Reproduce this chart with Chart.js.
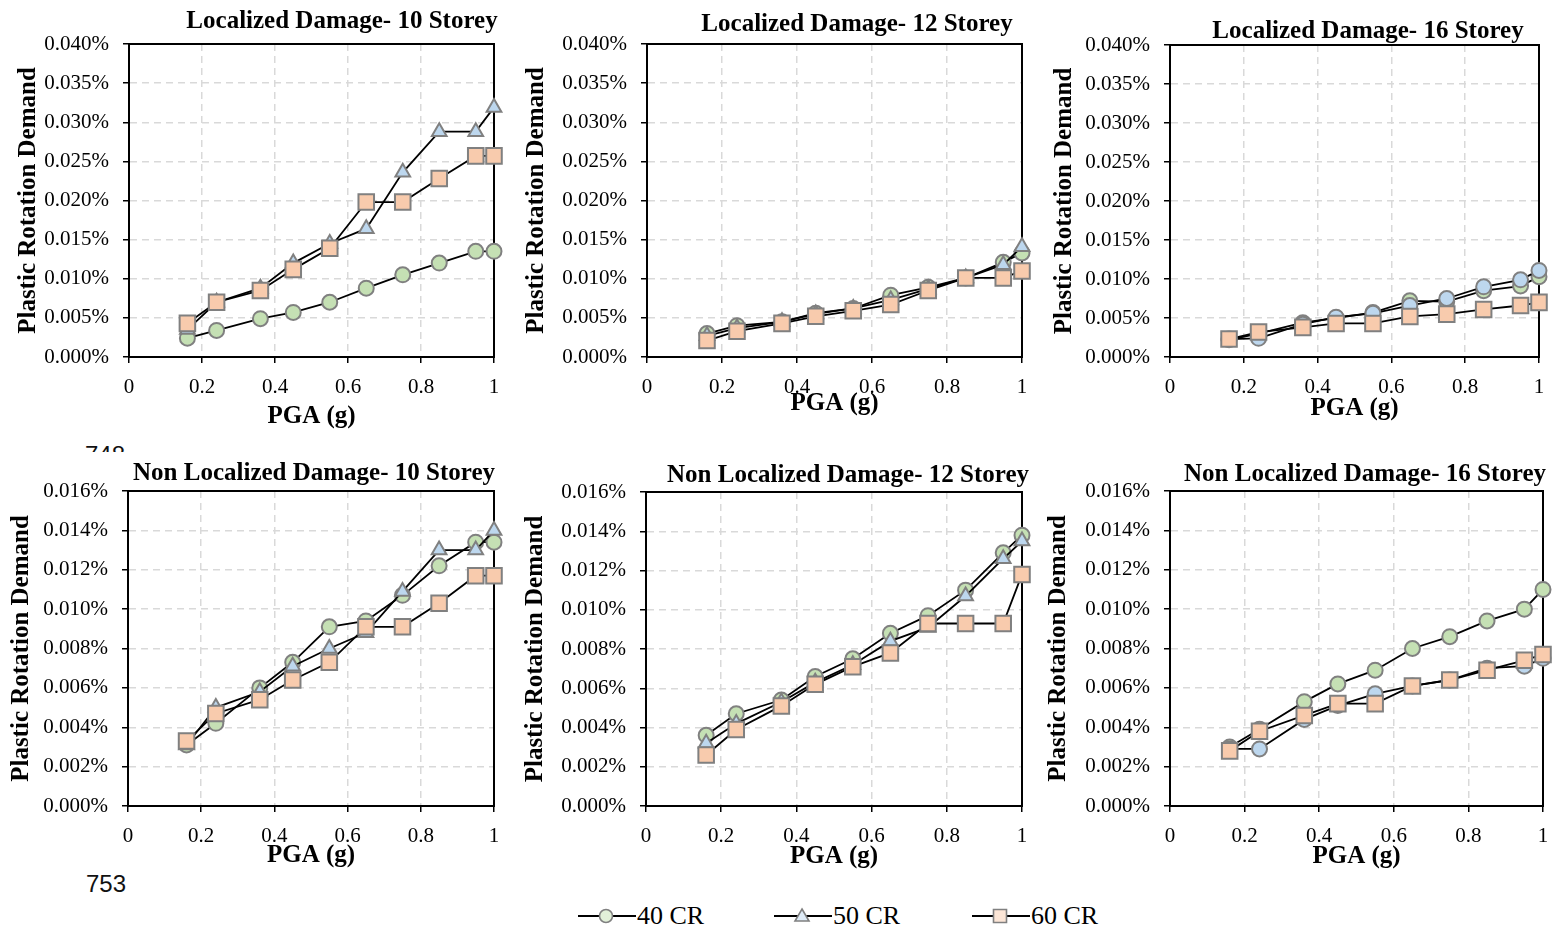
<!DOCTYPE html>
<html>
<head>
<meta charset="utf-8">
<script src="https://cdn.jsdelivr.net/npm/chart.js@4.4.1/dist/chart.umd.min.js"></script>
<style>
    body { margin: 0; background: #fff; }
    #page { position: relative; width: 1554px; height: 928px; overflow: hidden; background: #fff; }
    #page canvas { position: absolute; }
    .lineno { position: absolute; font-family: "Liberation Sans", sans-serif; font-size: 24px; color: #111; }
    .legend-item { position: absolute; top: 901px; height: 32px; }
    .legend-item canvas { position: absolute; left: 0; top: 4px; }
    .legend-item span { position: absolute; top: 0; font-family: "Liberation Serif", serif; font-size: 26px; color: #000; white-space: nowrap; }
</style>
</head>
<body>
<div id="page">
    <div class="lineno" style="left:85px; top:440px; height:12px; overflow:hidden;"><div style="margin-top:1px;">748</div></div>
    <div class="lineno" style="left:86px; top:870px;">753</div>
</div>
<script>
// Dados (PGA em g, demanda de rotação plástica em %)
const pga = [0.16, 0.24, 0.36, 0.45, 0.55, 0.65, 0.75, 0.85, 0.95, 1.0];
const seriesNames = ['40 CR', '50 CR', '60 CR'];

const loc10_cr40 = [0.0024, 0.0034, 0.0049, 0.0057, 0.0070, 0.0088, 0.0105, 0.0120, 0.0135, 0.0135];
const loc10_cr50 = [0.0035, 0.0070, 0.0088, 0.0120, 0.0145, 0.0164, 0.0236, 0.0288, 0.0288, 0.0319];
const loc10_cr60 = [0.0043, 0.0070, 0.0085, 0.0112, 0.0139, 0.0198, 0.0198, 0.0228, 0.0257, 0.0257];

const loc12_cr40 = [0.0030, 0.0040, 0.0045, 0.0056, 0.0062, 0.0079, 0.0089, 0.0101, 0.0121, 0.0133];
const loc12_cr50 = [0.0027, 0.0037, 0.0045, 0.0055, 0.0062, 0.0073, 0.0087, 0.0101, 0.0118, 0.0141];
const loc12_cr60 = [0.0021, 0.0033, 0.0043, 0.0052, 0.0059, 0.0067, 0.0085, 0.0101, 0.0101, 0.0110];

const loc16_cr40 = [0.0022, 0.0030, 0.0044, 0.0050, 0.0057, 0.0072, 0.0071, 0.0085, 0.0091, 0.0103];
const loc16_cr50 = [0.0023, 0.0024, 0.0042, 0.0051, 0.0056, 0.0066, 0.0075, 0.0090, 0.0099, 0.0111];
const loc16_cr60 = [0.0023, 0.0032, 0.0038, 0.0043, 0.0043, 0.0052, 0.0055, 0.0061, 0.0066, 0.0070];

const non10_cr40 = [0.0031, 0.0042, 0.0060, 0.0073, 0.0091, 0.0094, 0.0107, 0.0122, 0.0134, 0.0134];
const non10_cr50 = [0.0031, 0.0050, 0.0058, 0.0071, 0.0080, 0.0088, 0.0109, 0.0130, 0.0130, 0.0140];
const non10_cr60 = [0.0033, 0.0047, 0.0054, 0.0064, 0.0073, 0.0091, 0.0091, 0.0103, 0.0117, 0.0117];

const non12_cr40 = [0.0036, 0.0047, 0.0054, 0.0066, 0.0075, 0.0088, 0.0097, 0.0110, 0.0129, 0.0138];
const non12_cr50 = [0.0032, 0.0042, 0.0053, 0.0063, 0.0072, 0.0084, 0.0091, 0.0107, 0.0126, 0.0135];
const non12_cr60 = [0.0026, 0.0039, 0.0051, 0.0062, 0.0071, 0.0078, 0.0093, 0.0093, 0.0093, 0.0118];

const non16_cr40 = [0.0030, 0.0039, 0.0053, 0.0062, 0.0069, 0.0080, 0.0086, 0.0094, 0.0100, 0.0110];
const non16_cr50 = [0.0029, 0.0029, 0.0044, 0.0051, 0.0057, 0.0061, 0.0064, 0.0070, 0.0071, 0.0075];
const non16_cr60 = [0.0028, 0.0038, 0.0046, 0.0052, 0.0052, 0.0061, 0.0064, 0.0069, 0.0074, 0.0077];

// Rótulos dos eixos
const xTickLabels = ['0', '0.2', '0.4', '0.6', '0.8', '1'];
const yTickLabelsLoc = ['0.000%', '0.005%', '0.010%', '0.015%', '0.020%', '0.025%', '0.030%', '0.035%', '0.040%'];
const yTickLabelsNon = ['0.000%', '0.002%', '0.004%', '0.006%', '0.008%', '0.010%', '0.012%', '0.014%', '0.016%'];

const SERIF = '"Liberation Serif", "Times New Roman", serif';
const GREEN = '#c5e0b4', BLUE = '#bdd7ee', ORANGE = '#f8cbad', EDGE = '#808080';

// Layout de cada painel (área do gráfico em px da página)
const panels = [
    { id: 'c1', title: 'Localized Damage- 10 Storey', data: [loc10_cr40, loc10_cr50, loc10_cr60], ticks: yTickLabelsLoc, max: 0.04, step: 0.005, mid: 'triangle',
      L: 129, R: 494, T: 44, B: 357, tx: 342, ty: 22, yt: 29, xt: 418 },
    { id: 'c2', title: 'Localized Damage- 12 Storey', data: [loc12_cr40, loc12_cr50, loc12_cr60], ticks: yTickLabelsLoc, max: 0.04, step: 0.005, mid: 'triangle',
      L: 647, R: 1022, T: 44, B: 357, tx: 857, ty: 25, yt: 537, xt: 405 },
    { id: 'c3', title: 'Localized Damage- 16 Storey', data: [loc16_cr40, loc16_cr50, loc16_cr60], ticks: yTickLabelsLoc, max: 0.04, step: 0.005, mid: 'circle',
      L: 1170, R: 1539, T: 45, B: 357, tx: 1368, ty: 32, yt: 1065, xt: 410 },
    { id: 'c4', title: 'Non Localized Damage- 10 Storey', data: [non10_cr40, non10_cr50, non10_cr60], ticks: yTickLabelsNon, max: 0.016, step: 0.002, mid: 'triangle',
      L: 128, R: 494, T: 491, B: 806, tx: 314, ty: 474, yt: 22, xt: 857 },
    { id: 'c5', title: 'Non Localized Damage- 12 Storey', data: [non12_cr40, non12_cr50, non12_cr60], ticks: yTickLabelsNon, max: 0.016, step: 0.002, mid: 'triangle',
      L: 646, R: 1022, T: 492, B: 806, tx: 848, ty: 476, yt: 536, xt: 858 },
    { id: 'c6', title: 'Non Localized Damage- 16 Storey', data: [non16_cr40, non16_cr50, non16_cr60], ticks: yTickLabelsNon, max: 0.016, step: 0.002, mid: 'circle',
      L: 1170, R: 1543, T: 491, B: 806, tx: 1365, ty: 475, yt: 1059, xt: 858 }
];

// Título do painel e moldura da área do gráfico
const panelTitle = {
    id: 'panelTitle',
    afterDraw(chart, args, opts) {
        const ctx = chart.ctx;
        ctx.save();
        ctx.font = 'bold 25px ' + SERIF;
        ctx.fillStyle = '#000';
        ctx.textAlign = 'center';
        ctx.textBaseline = 'middle';
        ctx.fillText(opts.text, opts.x, opts.y);
        ctx.restore();
    }
};

const plotFrame = {
    id: 'plotFrame',
    beforeDatasetsDraw(chart) {
        const { ctx, chartArea: a } = chart;
        ctx.save();
        ctx.strokeStyle = '#000';
        ctx.lineWidth = 2;
        ctx.strokeRect(a.left, a.top, a.right - a.left, a.bottom - a.top);
        ctx.restore();
    }
};

function toPoints(values) {
    return pga.map((x, i) => ({ x: x, y: values[i] }));
}

function makeDataset(label, values, style, fill, radius, order) {
    return {
        label: label,
        data: toPoints(values),
        borderColor: '#000',
        borderWidth: 1.8,
        pointStyle: style,
        pointRadius: radius,
        pointHoverRadius: radius,
        pointBackgroundColor: fill,
        pointBorderColor: EDGE,
        pointBorderWidth: 2,
        tension: 0,
        clip: false,
        order: order
    };
}

function radiusFor(style) {
    if (style === 'triangle') return 8.5;
    if (style === 'rect') return 11;
    return 7.5;
}

function axisCommon() {
    return {
        grid: { color: '#d9d9d9', lineWidth: 1.5, tickLength: 6, tickColor: '#000', tickWidth: 1.5 },
        border: { color: '#000', width: 2, dash: [7, 5] }
    };
}

const page = document.getElementById('page');

panels.forEach(function(p) {
    const cLeft = p.yt - 15;
    const cTop = p.ty - 18;
    const cWidth = p.R + 11 - cLeft;
    const cHeight = p.xt + 14 - cTop;
    const yW = p.L - cLeft;
    const xH = p.xt + 14 - p.B;

    const canvas = document.createElement('canvas');
    canvas.id = p.id;
    canvas.width = cWidth;
    canvas.height = cHeight;
    canvas.style.left = cLeft + 'px';
    canvas.style.top = cTop + 'px';
    canvas.style.width = cWidth + 'px';
    canvas.style.height = cHeight + 'px';
    page.appendChild(canvas);

    const xAxis = axisCommon();
    const yAxis = axisCommon();

    new Chart(canvas.getContext('2d'), {
        type: 'line',
        data: {
            datasets: [
                makeDataset(seriesNames[0], p.data[0], 'circle', GREEN, radiusFor('circle'), 3),
                makeDataset(seriesNames[1], p.data[1], p.mid, BLUE, radiusFor(p.mid), 2),
                makeDataset(seriesNames[2], p.data[2], 'rect', ORANGE, radiusFor('rect'), 1)
            ]
        },
        options: {
            responsive: false,
            animation: false,
            layout: { autoPadding: false, padding: { top: p.T - cTop, right: 11, left: 0, bottom: 0 } },
            scales: {
                x: {
                    type: 'linear',
                    min: 0,
                    max: 1,
                    ticks: {
                        stepSize: 0.2,
                        padding: 12,
                        color: '#000',
                        font: { family: SERIF, size: 21 },
                        callback: function(value, index) { return xTickLabels[index]; }
                    },
                    grid: xAxis.grid,
                    border: xAxis.border,
                    title: { display: true, text: 'PGA (g)', color: '#000', padding: 0,
                             font: { family: SERIF, size: 25, weight: 'bold' } },
                    afterFit: function(scale) {
                        scale.height = xH;
                        scale.paddingLeft = 0;
                        scale.paddingRight = 0;
                    }
                },
                y: {
                    min: 0,
                    max: p.max,
                    ticks: {
                        stepSize: p.step,
                        padding: 14,
                        color: '#000',
                        font: { family: SERIF, size: 21 },
                        callback: function(value, index) { return p.ticks[index]; }
                    },
                    grid: yAxis.grid,
                    border: yAxis.border,
                    title: { display: true, text: 'Plastic Rotation Demand', color: '#000', padding: 0,
                             font: { family: SERIF, size: 25, weight: 'bold' } },
                    afterFit: function(scale) { scale.width = yW; }
                }
            },
            plugins: {
                legend: { display: false },
                tooltip: { enabled: false },
                panelTitle: { text: p.title, x: p.tx - cLeft, y: p.ty - cTop }
            }
        },
        plugins: [panelTitle, plotFrame]
    });
});

// Legenda comum
const legendItems = [
    { name: seriesNames[0], style: 'circle', fill: '#e2f0d9', left: 578 },
    { name: seriesNames[1], style: 'triangle', fill: '#deebf7', left: 774 },
    { name: seriesNames[2], style: 'rect', fill: '#fbe5d6', left: 972 }
];

function drawMarker(ctx, style, x, y) {
    ctx.beginPath();
    if (style === 'circle') {
        ctx.arc(x, y, 6.5, 0, Math.PI * 2);
    } else if (style === 'triangle') {
        ctx.moveTo(x, y - 7);
        ctx.lineTo(x + 7, y + 5);
        ctx.lineTo(x - 7, y + 5);
        ctx.closePath();
    } else {
        ctx.rect(x - 6.5, y - 6.5, 13, 13);
    }
    ctx.fill();
    ctx.stroke();
}

legendItems.forEach(function(item) {
    const box = document.createElement('div');
    box.className = 'legend-item';
    box.style.left = item.left + 'px';

    const icon = document.createElement('canvas');
    icon.width = 58;
    icon.height = 22;
    const ctx = icon.getContext('2d');
    ctx.strokeStyle = '#000';
    ctx.lineWidth = 1.8;
    ctx.beginPath();
    ctx.moveTo(0, 11);
    ctx.lineTo(58, 11);
    ctx.stroke();
    ctx.fillStyle = item.fill;
    ctx.strokeStyle = EDGE;
    ctx.lineWidth = 1.6;
    drawMarker(ctx, item.style, 28, 11);

    const label = document.createElement('span');
    label.style.left = '59px';
    label.textContent = item.name;

    box.appendChild(icon);
    box.appendChild(label);
    page.appendChild(box);
});
</script>
</body>
</html>
